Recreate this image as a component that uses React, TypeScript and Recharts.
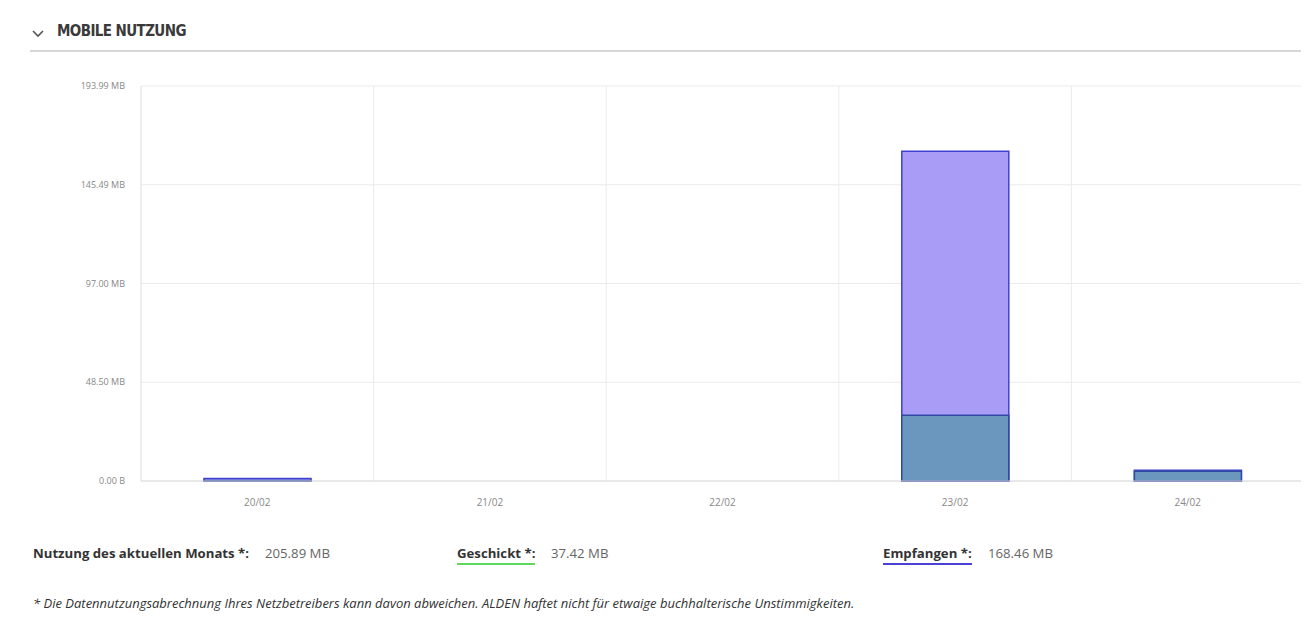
import { BarChart, Bar, XAxis, YAxis, CartesianGrid } from "recharts";

// ── Data ──
const days = ["20/02", "21/02", "22/02", "23/02", "24/02"];
const receivedMB = [1.2, 0, 0, 162.0, 5.26];
const sentMB = [0.3, 0, 0, 32.3, 4.82];
const yTicks = [0, 48.5, 97.0, 145.49, 193.99];

const data = days.map((day, i) => ({
  day,
  received: receivedMB[i],
  sent: sentMB[i],
}));

const fmtTick = (v: number) => (v === 0 ? "0.00 B" : `${v.toFixed(2)} MB`);

const FONT = "'Open Sans', 'Noto Sans', sans-serif";

const label: React.CSSProperties = {
  position: "absolute",
  top: 544,
  fontSize: 13.2,
  fontWeight: 700,
  color: "#333",
};
const value: React.CSSProperties = {
  position: "absolute",
  top: 544,
  fontSize: 13.2,
  color: "#666",
};

export default function App() {
  return (
    <div
      style={{
        position: "relative",
        width: 1309,
        height: 619,
        margin: -8,
        background: "#fff",
        fontFamily: FONT,
        overflow: "hidden",
      }}
    >
      {/* ── Header ── */}
      <svg style={{ position: "absolute", left: 32, top: 30 }} width={12} height={8}>
        <polyline points="1,1 6,6 11,1" fill="none" stroke="#555" strokeWidth={1.6} />
      </svg>
      <div
        style={{
          position: "absolute",
          left: 57,
          top: 22,
          fontFamily: "'DejaVu Sans Condensed', 'Liberation Sans Narrow', sans-serif",
          fontWeight: 700,
          fontSize: 15,
          color: "#3a3a3a",
          letterSpacing: -0.6,
        }}
      >
        MOBILE NUTZUNG
      </div>
      <div
        style={{
          position: "absolute",
          left: 30,
          right: 0,
          top: 50,
          height: 2,
          background: "#d6d6d6",
        }}
      />

      {/* ── Chart ── */}
      <div style={{ position: "absolute", left: 0, top: 0 }}>
        <BarChart
          width={1309}
          height={520}
          data={data}
          margin={{ top: 86, right: 5, left: 0, bottom: 9 }}
        >
          <CartesianGrid
            stroke="#ebebeb"
            verticalCoordinatesGenerator={({ offset }: any) =>
              days.map((_, i) => offset.left + ((i + 1) * offset.width) / days.length)
            }
          />
          <XAxis
            xAxisId="a"
            dataKey="day"
            height={30}
            tickLine={false}
            axisLine={{ stroke: "#dcdcdc" }}
            tick={{ fontSize: 10, fill: "#888", fontFamily: FONT }}
            tickMargin={12}
          />
          <XAxis xAxisId="b" dataKey="day" hide />
          <YAxis
            width={141}
            domain={[0, 193.99]}
            ticks={yTicks}
            tickFormatter={fmtTick}
            tickLine={false}
            axisLine={{ stroke: "#dcdcdc" }}
            tick={{ fontSize: 9, fill: "#888", fontFamily: FONT }}
            tickMargin={10}
          />
          <Bar
            xAxisId="a"
            dataKey="received"
            barSize={107}
            fill="#a99cf7"
            stroke="#4040d0"
            strokeWidth={1.5}
            isAnimationActive={false}
          />
          <Bar
            xAxisId="b"
            dataKey="sent"
            barSize={107}
            fill="#6b97be"
            stroke="#2f4aa0"
            strokeWidth={1.5}
            isAnimationActive={false}
          />
        </BarChart>
      </div>

      {/* ── Summary ── */}
      <div style={{ ...label, left: 33 }}>Nutzung des aktuellen Monats *:</div>
      <div style={{ ...value, left: 265 }}>205.89 MB</div>

      <div
        style={{
          ...label,
          left: 457,
          borderBottom: "2px solid #5fd85f",
          paddingBottom: 1,
        }}
      >
        Geschickt *:
      </div>
      <div style={{ ...value, left: 551 }}>37.42 MB</div>

      <div
        style={{
          ...label,
          left: 883,
          borderBottom: "2px solid #4a42d4",
          paddingBottom: 1,
        }}
      >
        Empfangen *:
      </div>
      <div style={{ ...value, left: 988 }}>168.46 MB</div>

      {/* ── Footnote ── */}
      <div
        style={{
          position: "absolute",
          left: 33,
          top: 594,
          fontSize: 13,
          fontStyle: "italic",
          color: "#333",
          whiteSpace: "nowrap",
        }}
      >
        * Die Datennutzungsabrechnung Ihres Netzbetreibers kann davon abweichen. ALDEN haftet nicht für etwaige
        buchhalterische Unstimmigkeiten.
      </div>
    </div>
  );
}
